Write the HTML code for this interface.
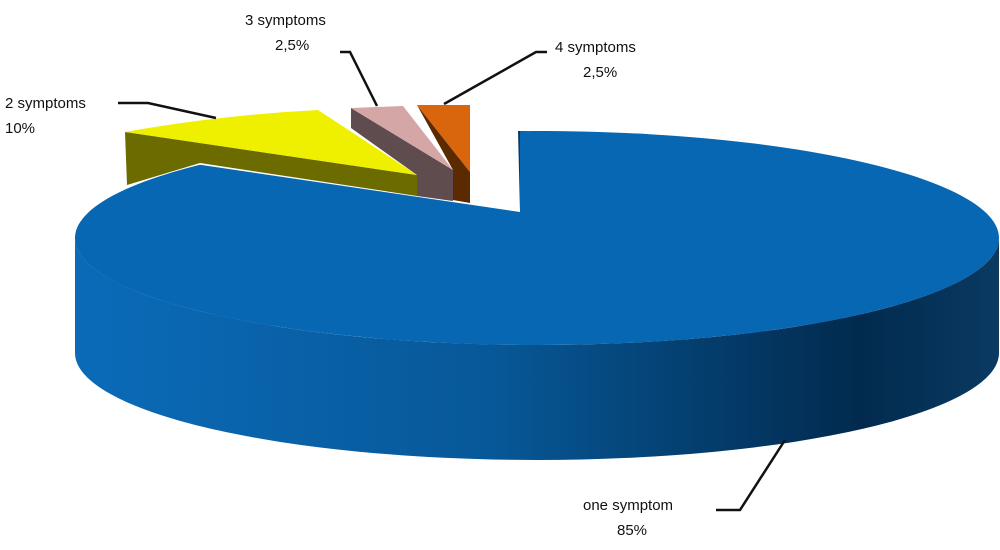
<!DOCTYPE html>
<html><head><style>body{margin:0;background:#fff}svg{display:block}text{font-family:"Liberation Sans",sans-serif;font-size:15px;fill:#111}</style></head><body>
<svg width="1000" height="550" viewBox="0 0 1000 550">
<defs><linearGradient id="g" x1="75" y1="0" x2="999" y2="0" gradientUnits="userSpaceOnUse">
<stop offset="0" stop-color="#0b6bb9"/><stop offset="0.45" stop-color="#075898"/><stop offset="0.85" stop-color="#022a4e"/><stop offset="1" stop-color="#0a3a62"/></linearGradient></defs>
<polygon points="125,132 417,175 417,196 200,163 127,185" fill="#6b6b00"/>
<path d="M125,132 Q220,115 318,110 L417,175 Z" fill="#eef000"/>
<polygon points="351,108 453,170 453,201 417,196 417,175 351,128" fill="#5e4c4e"/>
<polygon points="351,108 403,106 453,170" fill="#d4a6a6"/>
<polygon points="417,105 470,172 470,203 453,200 453,170" fill="#5c2a00"/>
<polygon points="417,105 470,105 470,172" fill="#d9650c"/>
<path d="M75,238 A462 107 0 0 0 999,238 L999,353 A462 107 0 0 1 75,353 Z" fill="url(#g)"/>
<polygon points="518,131 527,131 527,213 520,212" fill="#0a3a62"/>
<path d="M520,212 L200,164.8 A462 107 0 1 0 520,131.07 Z" fill="#0767b3"/>
<g stroke="#111" stroke-width="2.5" fill="none">
<polyline points="716,510 740,510 785,440"/>
<polyline points="118,103 148,103 216,118"/>
<polyline points="340,52 350,52 377,106"/>
<polyline points="547,52 536,52 444,104"/>
</g>
<text x="583" y="510">one symptom</text><text x="617" y="535">85%</text>
<text x="5" y="108">2 symptoms</text><text x="5" y="133">10%</text>
<text x="245" y="25">3 symptoms</text><text x="275" y="50">2,5%</text>
<text x="555" y="52">4 symptoms</text><text x="583" y="77">2,5%</text>
</svg></body></html>
